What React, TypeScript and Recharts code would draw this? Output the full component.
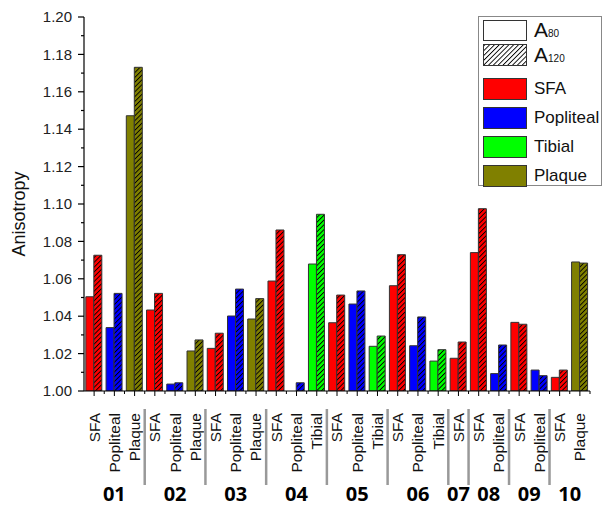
import { BarChart, Bar, XAxis, YAxis, Cell } from "recharts";

const tissues = ["SFA", "Popliteal", "Plaque", "SFA", "Popliteal", "Plaque", "SFA", "Popliteal", "Plaque", "SFA", "Popliteal", "Tibial", "SFA", "Popliteal", "Tibial", "SFA", "Popliteal", "Tibial", "SFA", "SFA", "Popliteal", "SFA", "Popliteal", "SFA", "Plaque"];
const patients = ["01", "01", "01", "02", "02", "02", "03", "03", "03", "04", "04", "04", "05", "05", "05", "06", "06", "06", "07", "08", "08", "09", "09", "10", "10"];
const a80 = [1.0504, 1.0339, 1.1472, 1.0433, 1.0037, 1.0214, 1.0228, 1.0401, 1.0385, 1.0588, 1.0, 1.0679, 1.0365, 1.0465, 1.0239, 1.0563, 1.0242, 1.016, 1.0175, 1.074, 1.0093, 1.0367, 1.0112, 1.0073, 1.069];
const a120 = [1.0726, 1.0522, 1.1731, 1.0522, 1.0044, 1.0273, 1.0309, 1.0545, 1.0494, 1.0861, 1.0044, 1.0945, 1.0513, 1.0535, 1.0294, 1.0729, 1.0396, 1.0221, 1.0262, 1.0975, 1.0246, 1.0357, 1.0082, 1.0112, 1.0684];
const yTicks = [1.0, 1.01, 1.02, 1.03, 1.04, 1.05, 1.06, 1.07, 1.08, 1.09, 1.1, 1.11, 1.12, 1.13, 1.14, 1.15, 1.16, 1.17, 1.18, 1.19, 1.2];
const legendTissues = ["SFA", "Popliteal", "Tibial", "Plaque"];

const colors: Record<string, string> = {
  SFA: "#ff0000",
  Popliteal: "#0000ff",
  Tibial: "#00ff00",
  Plaque: "#808000",
};

const data = tissues.map((t, i) => ({ tissue: t, patient: patients[i], a80: a80[i], a120: a120[i] }));

const W = 612;
const H = 512;
const TOP = 17;
const RIGHT = 22;
const LEFT = 84;
const XH = 121;
const AXIS_Y = H - XH;
const BAND = (W - LEFT - RIGHT) / data.length;
const FONT = "'Liberation Sans', Arial, sans-serif";

function XTick(props: any) {
  const { x, index, payload } = props;
  const p = patients[index];
  const first = patients.indexOf(p);
  const last = patients.lastIndexOf(p);
  const labelY = AXIS_Y + 22;
  return (
    <g>
      <line x1={x} x2={x} y1={AXIS_Y} y2={AXIS_Y + 5} stroke="#000" strokeWidth={1} />
      <line x1={x + BAND / 2} x2={x + BAND / 2} y1={AXIS_Y} y2={AXIS_Y + 3} stroke="#000" strokeWidth={1} />
      <text
        x={x}
        y={labelY}
        dy="0.35em"
        transform={`rotate(-90 ${x} ${labelY})`}
        textAnchor="end"
        fontFamily={FONT}
        fontSize={15.5}
        fill="#111"
      >
        {payload.value}
      </text>
      {index === last && index !== patients.length - 1 && (
        <line x1={x + BAND / 2} x2={x + BAND / 2} y1={AXIS_Y + 18} y2={AXIS_Y + 94} stroke="#999" strokeWidth={2.5} />
      )}
      {index === first && (
        <text
          x={x + ((last - first) * BAND) / 2}
          y={AXIS_Y + 110}
          textAnchor="middle"
          fontFamily="'Open Sans', sans-serif"
          fontWeight="bold"
          fontSize={20}
          fill="#000"
        >
          {p}
        </text>
      )}
    </g>
  );
}

function YTick(props: any) {
  const { y, payload } = props;
  const major = Math.round(payload.value * 100) % 2 === 0;
  return (
    <g>
      <line x1={LEFT - (major ? 6 : 3)} x2={LEFT} y1={y} y2={y} stroke="#000" strokeWidth={1.2} />
      {major && (
        <text x={LEFT - 12} y={y} dy="0.35em" textAnchor="end" fontFamily={FONT} fontSize={15} fill="#222">
          {payload.value.toFixed(2)}
        </text>
      )}
    </g>
  );
}

function Hatches() {
  return (
    <svg width={0} height={0} style={{ position: "absolute" }}>
      <defs>
        {[...Object.keys(colors), "white"].map((k) => (
          <pattern key={k} id={`hatch-${k}`} patternUnits="userSpaceOnUse" width={3.4} height={3.4} patternTransform="rotate(45)">
            <rect width={3.4} height={3.4} fill={colors[k] ?? "#fff"} />
            <line x1={0} y1={0} x2={0} y2={3.4} stroke="#000" strokeWidth={1.8} />
          </pattern>
        ))}
      </defs>
    </svg>
  );
}

function LegendBox() {
  const box = { width: 44, height: 21, border: "1px solid #333", boxSizing: "border-box" as const, marginRight: 7 };
  const row = { display: "flex", alignItems: "center", height: 29 };
  return (
    <div
      style={{
        position: "absolute",
        left: 478,
        top: 16,
        width: 124,
        height: 170,
        border: "1px solid #888",
        boxSizing: "border-box",
        background: "#fff",
        padding: "1px 0 0 4px",
        fontFamily: FONT,
        color: "#111",
      }}
    >
      <div style={{ ...row, height: 24 }}>
        <div style={{ ...box, background: "#fff" }} />
        <span style={{ fontSize: 21 }}>
          A<span style={{ fontSize: 10 }}>80</span>
        </span>
      </div>
      <div style={{ ...row, height: 26, marginBottom: 6 }}>
        <div style={{ ...box, height: 22 }}>
          <svg width={42} height={20} style={{ display: "block" }}>
            <rect width={42} height={20} fill="url(#hatch-white)" />
          </svg>
        </div>
        <span style={{ fontSize: 21 }}>
          A<span style={{ fontSize: 10 }}>120</span>
        </span>
      </div>
      {legendTissues.map((t) => (
        <div key={t} style={row}>
          <div style={{ ...box, height: 22, background: colors[t] }} />
          <span style={{ fontSize: 17 }}>{t}</span>
        </div>
      ))}
    </div>
  );
}

export default function App() {
  return (
    <div style={{ position: "absolute", left: 0, top: 0, width: W, height: H, background: "#fff" }}>
      <Hatches />
      <BarChart
        width={W}
        height={H}
        data={data}
        margin={{ top: TOP, right: RIGHT, bottom: 0, left: 0 }}
        barCategoryGap="9%"
        barGap={0}
      >
        <XAxis
          dataKey="tissue"
          height={XH}
          interval={0}
          tickLine={false}
          tick={<XTick />}
          axisLine={{ stroke: "#000", strokeWidth: 1.2 }}
        />
        <YAxis
          width={LEFT}
          domain={[1, 1.2]}
          ticks={yTicks}
          interval={0}
          tickLine={false}
          tick={<YTick />}
          axisLine={{ stroke: "#000", strokeWidth: 1.2 }}
          allowDataOverflow
          label={{
            content: () => (
              <text x={19} y={214} transform="rotate(-90 19 214)" textAnchor="middle" dy="0.35em" fontFamily={FONT} fontSize={18} fill="#111">
                Anisotropy
              </text>
            ),
          }}
        />
        <Bar dataKey="a80" stroke="#333" strokeWidth={1} isAnimationActive={false}>
          {data.map((d, i) => (
            <Cell key={i} fill={colors[d.tissue]} />
          ))}
        </Bar>
        <Bar dataKey="a120" stroke="#333" strokeWidth={1} isAnimationActive={false}>
          {data.map((d, i) => (
            <Cell key={i} fill={`url(#hatch-${d.tissue})`} />
          ))}
        </Bar>
      </BarChart>
      <LegendBox />
    </div>
  );
}
